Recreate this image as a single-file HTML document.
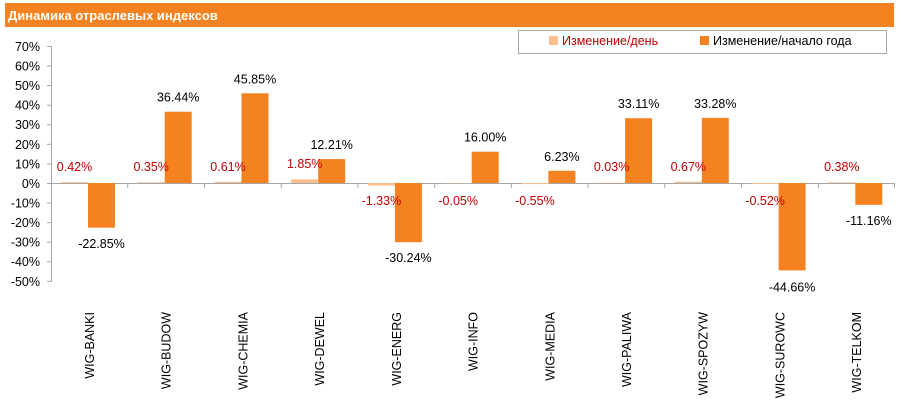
<!DOCTYPE html>
<html><head><meta charset="utf-8"><style>
body{margin:0;background:#fff;}
svg{display:block;font-family:"Liberation Sans",sans-serif;}
</style></head><body>
<svg width="901" height="407" viewBox="0 0 901 407">
<rect x="5" y="3" width="889" height="24" fill="#f58220"/>
<text x="8" y="20" font-size="13" font-weight="bold" fill="#fff">Динамика отраслевых индексов</text>
<rect x="518.5" y="30.5" width="368" height="23" fill="#fff" stroke="#a6a6a6"/>
<rect x="549" y="36" width="9" height="9" fill="#fbbf8f"/>
<text x="562" y="45" font-size="12.5" fill="#c00000">Изменение/день</text>
<rect x="700" y="36" width="9" height="9" fill="#f58220"/>
<text x="713" y="45" font-size="12.5" fill="#000">Изменение/начало года</text>
<g stroke="#a6a6a6" stroke-width="1">
<line x1="51.5" y1="46" x2="51.5" y2="282"/>
<line x1="47" y1="46.5" x2="51" y2="46.5"/><line x1="47" y1="66" x2="51" y2="66"/><line x1="47" y1="85.6" x2="51" y2="85.6"/><line x1="47" y1="105.2" x2="51" y2="105.2"/><line x1="47" y1="124.7" x2="51" y2="124.7"/><line x1="47" y1="144.3" x2="51" y2="144.3"/><line x1="47" y1="163.9" x2="51" y2="163.9"/><line x1="47" y1="183.5" x2="51" y2="183.5"/><line x1="47" y1="203" x2="51" y2="203"/><line x1="47" y1="222.6" x2="51" y2="222.6"/><line x1="47" y1="242.2" x2="51" y2="242.2"/><line x1="47" y1="261.7" x2="51" y2="261.7"/><line x1="47" y1="281.3" x2="51" y2="281.3"/>
<line x1="51" y1="183.5" x2="895" y2="183.5"/>
<g><line x1="127.7" y1="183" x2="127.7" y2="188"/><line x1="204.5" y1="183" x2="204.5" y2="188"/><line x1="281.2" y1="183" x2="281.2" y2="188"/><line x1="357.9" y1="183" x2="357.9" y2="188"/><line x1="434.7" y1="183" x2="434.7" y2="188"/><line x1="511.4" y1="183" x2="511.4" y2="188"/><line x1="588.1" y1="183" x2="588.1" y2="188"/><line x1="664.8" y1="183" x2="664.8" y2="188"/><line x1="741.6" y1="183" x2="741.6" y2="188"/><line x1="818.3" y1="183" x2="818.3" y2="188"/><line x1="894.5" y1="183" x2="894.5" y2="188"/></g>
</g>
<g font-size="12.5" fill="#000" text-anchor="end">
<text x="40" y="51">70%</text><text x="40" y="70.5">60%</text><text x="40" y="90">50%</text><text x="40" y="109.7">40%</text><text x="40" y="129.2">30%</text><text x="40" y="148.8">20%</text><text x="40" y="168.4">10%</text><text x="40" y="188">0%</text><text x="40" y="207.5">-10%</text><text x="40" y="227">-20%</text><text x="40" y="246.7">-30%</text><text x="40" y="266.2">-40%</text><text x="40" y="285.8">-50%</text>
</g>
<g fill="#fbbf8f">
<rect x="61" y="182.2" width="27" height="0.8"/>
<rect x="137.7" y="182.3" width="27" height="0.7"/>
<rect x="214.5" y="181.8" width="27" height="1.2"/>
<rect x="291.2" y="179.4" width="27" height="3.6"/>
<rect x="367.9" y="183" width="27" height="2.6"/>
<rect x="444.7" y="183" width="27" height="0.3"/>
<rect x="521.4" y="183" width="27" height="1.1"/>
<rect x="598.1" y="182.7" width="27" height="0.3"/>
<rect x="674.8" y="181.7" width="27" height="1.3"/>
<rect x="751.6" y="183" width="27" height="1"/>
<rect x="828.3" y="182.3" width="27" height="0.7"/>
</g>
<g fill="#f58220">
<rect x="88" y="183" width="27" height="44.7"/>
<rect x="164.7" y="111.7" width="27" height="71.3"/>
<rect x="241.5" y="93.3" width="27" height="89.7"/>
<rect x="318.2" y="159.1" width="27" height="23.9"/>
<rect x="394.9" y="183" width="27" height="59.2"/>
<rect x="471.7" y="151.7" width="27" height="31.3"/>
<rect x="548.4" y="170.8" width="27" height="12.2"/>
<rect x="625.1" y="118.2" width="27" height="64.8"/>
<rect x="701.8" y="117.9" width="27" height="65.1"/>
<rect x="778.6" y="183" width="27" height="87.4"/>
<rect x="855.3" y="183" width="27" height="21.8"/>
</g>
<g font-size="12.5" fill="#c00000" text-anchor="middle">
<text x="74.5" y="171">0.42%</text><text x="151.2" y="171">0.35%</text><text x="228" y="171">0.61%</text><text x="304.7" y="168">1.85%</text><text x="381.4" y="205">-1.33%</text><text x="458.2" y="205">-0.05%</text><text x="534.9" y="205">-0.55%</text><text x="611.6" y="171">0.03%</text><text x="688.3" y="171">0.67%</text><text x="765.1" y="205">-0.52%</text><text x="841.8" y="171">0.38%</text>
</g>
<g font-size="12.5" fill="#000" text-anchor="middle">
<text x="101.5" y="248">-22.85%</text><text x="178.2" y="101.7">36.44%</text><text x="255" y="83.3">45.85%</text><text x="331.7" y="149.1">12.21%</text><text x="408.4" y="262.2">-30.24%</text><text x="485.2" y="141.7">16.00%</text><text x="561.9" y="160.8">6.23%</text><text x="638.6" y="108.2">33.11%</text><text x="715.3" y="107.9">33.28%</text><text x="792.1" y="291.4">-44.66%</text><text x="868.8" y="224.8">-11.16%</text>
</g>
<g font-size="12.5" fill="#000" text-anchor="end">
<text transform="translate(94,312) rotate(-90)">WIG-BANKI</text>
<text transform="translate(170.6,312) rotate(-90)">WIG-BUDOW</text>
<text transform="translate(247.4,312) rotate(-90)">WIG-CHEMIA</text>
<text transform="translate(324.1,312) rotate(-90)">WIG-DEWEL</text>
<text transform="translate(400.8,312) rotate(-90)">WIG-ENERG</text>
<text transform="translate(477.5,312) rotate(-90)">WIG-INFO</text>
<text transform="translate(554.3,312) rotate(-90)">WIG-MEDIA</text>
<text transform="translate(631,312) rotate(-90)">WIG-PALIWA</text>
<text transform="translate(707.7,312) rotate(-90)">WIG-SPOZYW</text>
<text transform="translate(784.5,312) rotate(-90)">WIG-SUROWC</text>
<text transform="translate(861.2,312) rotate(-90)">WIG-TELKOM</text>
</g>
</svg>
</body></html>
